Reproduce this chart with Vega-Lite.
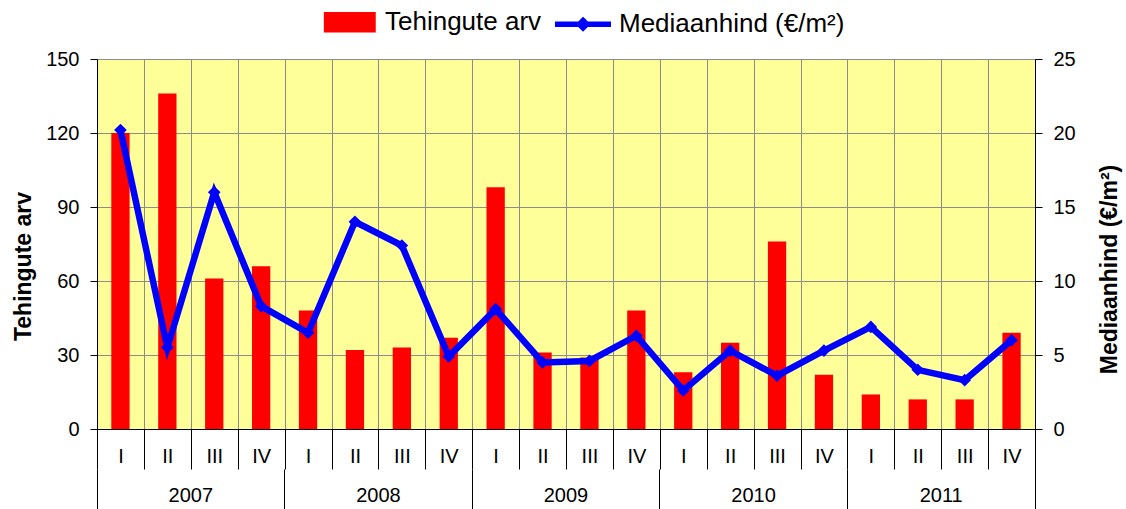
{
  "$schema": "https://vega.github.io/schema/vega-lite/v6.json",
  "width": 938,
  "height": 370,
  "autosize": {"type": "none"},
  "padding": {"left": 97, "top": 59, "right": 91, "bottom": 80},
  "background": "white",
  "config": {
    "view": {"fill": "#FFFF99", "stroke": null},
    "font": "Liberation Sans",
    "axis": {
      "labelFont": "Liberation Sans",
      "labelFontSize": 20,
      "labelColor": "#000000",
      "titleFont": "Liberation Sans",
      "titleFontSize": 23,
      "titleFontWeight": "bold",
      "titleColor": "#000000",
      "domainColor": "#000000",
      "tickColor": "#000000",
      "gridColor": "#8c8c8c",
      "gridWidth": 1
    },
    "legend": {
      "orient": "none",
      "legendX": 221,
      "legendY": -68,
      "direction": "horizontal",
      "columns": 2,
      "labelFont": "Liberation Sans",
      "labelFontSize": 26,
      "labelColor": "#000000",
      "symbolSize": 3136,
      "labelOffset": 5,
      "columnPadding": 2,
      "padding": 0,
      "labelLimit": 0
    }
  },
  "data": {
    "values": [
      {"q": "2007-I", "year": "2007", "arv": 120, "hind": 20.2},
      {"q": "2007-II", "year": "2007", "arv": 136, "hind": 5.5},
      {"q": "2007-III", "year": "2007", "arv": 61, "hind": 16.0},
      {"q": "2007-IV", "year": "2007", "arv": 66, "hind": 8.3},
      {"q": "2008-I", "year": "2008", "arv": 48, "hind": 6.5},
      {"q": "2008-II", "year": "2008", "arv": 32, "hind": 14.0},
      {"q": "2008-III", "year": "2008", "arv": 33, "hind": 12.4},
      {"q": "2008-IV", "year": "2008", "arv": 37, "hind": 4.9},
      {"q": "2009-I", "year": "2009", "arv": 98, "hind": 8.1},
      {"q": "2009-II", "year": "2009", "arv": 31, "hind": 4.5},
      {"q": "2009-III", "year": "2009", "arv": 29, "hind": 4.6},
      {"q": "2009-IV", "year": "2009", "arv": 48, "hind": 6.3},
      {"q": "2010-I", "year": "2010", "arv": 23, "hind": 2.6},
      {"q": "2010-II", "year": "2010", "arv": 35, "hind": 5.3},
      {"q": "2010-III", "year": "2010", "arv": 76, "hind": 3.6},
      {"q": "2010-IV", "year": "2010", "arv": 22, "hind": 5.3},
      {"q": "2011-I", "year": "2011", "arv": 14, "hind": 6.9},
      {"q": "2011-II", "year": "2011", "arv": 12, "hind": 4.0},
      {"q": "2011-III", "year": "2011", "arv": 12, "hind": 3.3},
      {"q": "2011-IV", "year": "2011", "arv": 39, "hind": 6.0}
    ]
  },
  "layer": [
    {
      "mark": {"type": "bar", "width": {"band": 0.39}, "color": "#FF0000"},
      "encoding": {
        "x": {
          "field": "q", "type": "ordinal", "sort": null,
          "scale": {"type": "band", "paddingInner": 0, "paddingOuter": 0},
          "axis": {
            "orient": "bottom",
            "title": null,
            "labelExpr": "split(datum.value, '-')[1]",
            "labelAngle": 0,
            "tickBand": "extent",
            "tickSize": 40,
            "labelPadding": -23,
            "grid": true,
            "domain": true
          }
        },
        "y": {
          "field": "arv", "type": "quantitative",
          "scale": {"domain": [0, 150], "nice": false},
          "axis": {
            "title": "Tehingute arv",
            "values": [0, 30, 60, 90, 120, 150],
            "grid": true,
            "tickSize": 7,
            "labelPadding": 11,
            "titleAngle": -90,
            "titleAlign": "center",
            "titleBaseline": "bottom",
            "titleX": -62,
            "titleY": 207
          }
        },
        "color": {
          "datum": "Tehingute arv",
          "type": "nominal",
          "scale": {"domain": ["Tehingute arv", "Mediaanhind (€/m²)"], "range": ["#FF0000", "#0000FF"]},
          "legend": {
            "title": null,
            "encode": {
              "symbols": {
                "update": {
                  "shape": {"signal": "datum.value === 'Tehingute arv' ? 'M-0.8,-0.27H0.857V0.27H-0.8Z' : 'M-1,0H1M0,-0.13L0.13,0L0,0.13L-0.13,0Z'"},
                  "fill": {"signal": "datum.value === 'Tehingute arv' ? '#FF0000' : '#0000FF'"},
                  "stroke": {"signal": "datum.value === 'Tehingute arv' ? 'transparent' : '#0000FF'"},
                  "strokeWidth": {"value": 5.5},
                  "opacity": {"value": 1},
                  "fillOpacity": {"value": 1},
                  "strokeOpacity": {"value": 1}
                }
              }
            }
          }
        }
      }
    },
    {
      "mark": {"type": "line", "strokeWidth": 6.5},
      "encoding": {
        "x": {
          "field": "q", "type": "ordinal", "sort": null,
          "scale": {"type": "band", "paddingInner": 0, "paddingOuter": 0},
          "axis": {
            "orient": "bottom",
            "offset": 40,
            "title": null,
            "values": ["2007-I", "2008-I", "2009-I", "2010-I", "2011-I"],
            "labelExpr": "split(datum.value, '-')[0]",
            "labelAngle": 0,
            "labelOffset": 70.35,
            "bandPosition": 0,
            "tickSize": 40,
            "labelPadding": -24,
            "domain": false,
            "grid": false
          }
        },
        "y": {
          "field": "hind", "type": "quantitative",
          "scale": {"domain": [0, 25], "nice": false},
          "axis": {
            "orient": "right",
            "title": "Mediaanhind (€/m²)",
            "values": [0, 5, 10, 15, 20, 25],
            "grid": false,
            "tickSize": 7,
            "labelPadding": 11,
            "titleAngle": -90,
            "titleAlign": "center",
            "titleBaseline": "bottom",
            "titleX": 86,
            "titleY": 210
          }
        },
        "color": {"datum": "Mediaanhind (€/m²)", "type": "nominal"}
      }
    },
    {
      "mark": {"type": "point", "shape": "diamond", "filled": true, "size": 160, "opacity": 1},
      "encoding": {
        "x": {
          "field": "q", "type": "ordinal", "sort": null,
          "scale": {"type": "band", "paddingInner": 0, "paddingOuter": 0},
          "axis": {
            "orient": "bottom",
            "offset": 0,
            "title": null,
            "values": ["2011-IV"],
            "labels": false,
            "bandPosition": 1,
            "tickSize": 80,
            "domain": false,
            "grid": false
          }
        },
        "y": {"field": "hind", "type": "quantitative", "scale": {"domain": [0, 25], "nice": false}, "axis": null},
        "color": {"datum": "Mediaanhind (€/m²)", "type": "nominal"}
      }
    }
  ],
  "resolve": {"scale": {"y": "independent"}, "axis": {"x": "independent"}}
}
